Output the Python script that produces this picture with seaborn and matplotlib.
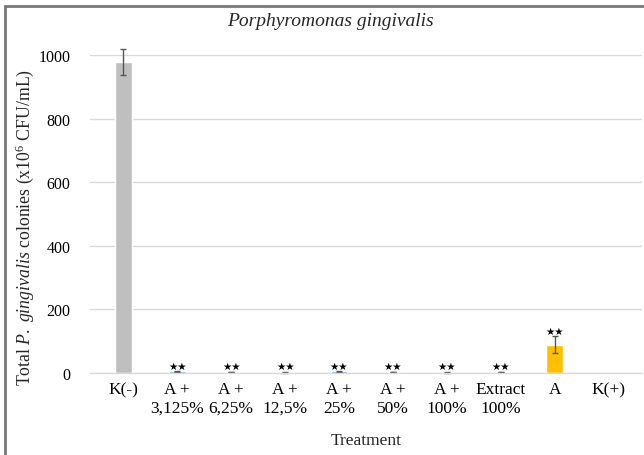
import matplotlib
matplotlib.use("Agg")
import matplotlib.pyplot as plt
import seaborn as sns
import pandas as pd
from matplotlib.patches import Rectangle

categories = ["K(-)", "A +\n3,125%", "A +\n6,25%", "A +\n12,5%", "A +\n25%",
              "A +\n50%", "A +\n100%", "Extract\n100%", "A", "K(+)"]
values = [978, 5, 3, 2, 5, 3, 2, 3, 89, 0]
errors = [42, 1, 1, 1, 1, 1, 1, 1, 26, 0]
stars = ["", "★★", "★★", "★★", "★★", "★★", "★★", "★★", "★★", ""]
colors = ["#BFBFBF", "#5B9BD5", "#5B9BD5", "#5B9BD5", "#5B9BD5",
          "#5B9BD5", "#5B9BD5", "#5B9BD5", "#FFC000", "#5B9BD5"]

sns.set_theme(style="white")
plt.rcParams["font.family"] = ["Liberation Serif", "DejaVu Sans"]
plt.rcParams["mathtext.fontset"] = "custom"
plt.rcParams["mathtext.rm"] = "Liberation Serif"
plt.rcParams["mathtext.it"] = "Liberation Serif:italic"

df = pd.DataFrame({"Treatment": categories, "value": values})

fig = plt.figure(figsize=(6.44, 4.56), dpi=100)
ax = fig.add_axes([90/644, 82/456, 552/644, 318/456])

sns.barplot(data=df, x="Treatment", y="value", hue="Treatment", palette=colors,
            width=0.31, legend=False, ax=ax, errorbar=None, saturation=1)
idx = [i for i, v in enumerate(values) if v > 0]
ax.errorbar(idx, [values[i] for i in idx], yerr=[errors[i] for i in idx], fmt="none",
            ecolor="#555555", elinewidth=1, capsize=2.5, capthick=1, clip_on=False)

for i, (v, e, s) in enumerate(zip(values, errors, stars)):
    if s:
        ax.text(i, v + e + 2, s, ha="center", va="bottom", fontsize=7.5,
                family="DejaVu Sans", color="black")

ax.set_ylim(0, 1000)
ax.set_yticks([0, 200, 400, 600, 800, 1000])
ax.yaxis.grid(True, color="#D9D9D9", linewidth=1)
ax.set_axisbelow(True)
for sp in ["top", "right", "left"]:
    ax.spines[sp].set_visible(False)
ax.spines["bottom"].set_color("#D9D9D9")
ax.spines["bottom"].set_linewidth(1)
ax.tick_params(axis="x", labelsize=12.5, pad=6, length=0, colors="black")
ax.tick_params(axis="y", labelsize=11.5, pad=14, length=0, colors="black")
ax.set_xlabel("Treatment", fontsize=12.5, labelpad=12)
ax.set_ylabel(r"Total $\mathit{P.\ gingivalis}$ colonies (x10$^6$ CFU/mL)", fontsize=12.8)
ax.yaxis.set_label_coords(-0.097, 0.462)
fig.text(330/644, 1 - 22/456, "Porphyromonas gingivalis", ha="center", va="center",
         fontsize=14, style="italic")

fig.patches.append(Rectangle((5/644, -0.05), 1.05, 1 - 6.5/456 + 0.05, transform=fig.transFigure,
                             fill=False, edgecolor="#777777", linewidth=2))

fig.savefig("out.png", dpi=100)
